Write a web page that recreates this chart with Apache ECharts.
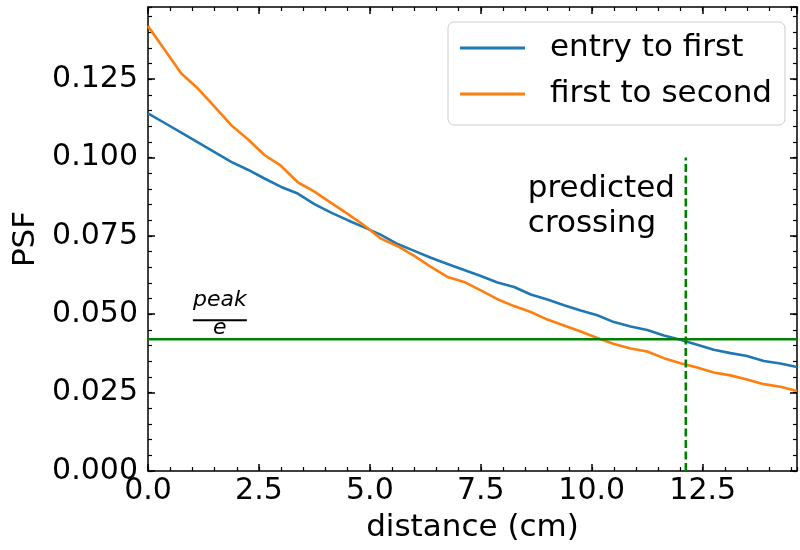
<!DOCTYPE html>
<html><head><meta charset="utf-8">
<script src="https://cdn.jsdelivr.net/npm/echarts@6/dist/echarts.min.js"></script>
<style>html,body{margin:0;padding:0;background:#fff}#c{width:800px;height:550px}</style>
</head><body><div id="c"></div>
<script>
// ---- data ----
const distance = [0,0.375,0.75,1.125,1.5,1.875,2.25,2.625,3,3.375,3.75,4.125,4.5,4.875,5.25,5.625,6,6.375,6.75,7.125,7.5,7.875,8.25,8.625,9,9.375,9.75,10.125,10.5,10.875,11.25,11.625,12,12.375,12.75,13.125,13.5,13.875,14.25,14.625];
const entryToFirst = [0.1141,0.1110,0.1079,0.1048,0.1017,0.0986,0.0961,0.0933,0.0906,0.0885,0.0851,0.0824,0.0800,0.0777,0.0753,0.0724,0.0702,0.0680,0.0660,0.0641,0.0622,0.0601,0.0587,0.0563,0.0547,0.0529,0.0512,0.0497,0.0475,0.0461,0.0450,0.0432,0.0419,0.0403,0.0387,0.0376,0.0367,0.0351,0.0343,0.0332];
const firstToSecond = [0.1419,0.1344,0.1268,0.1220,0.1162,0.1103,0.1058,0.1008,0.0973,0.0921,0.0891,0.0855,0.0820,0.0783,0.0741,0.0717,0.0686,0.0651,0.0619,0.0603,0.0576,0.0548,0.0526,0.0507,0.0483,0.0464,0.0445,0.0424,0.0405,0.0391,0.0381,0.0360,0.0344,0.0330,0.0314,0.0305,0.0292,0.0277,0.0269,0.0255];
const seriesNames = ['entry to first', 'first to second'];
const peakOverE = [0.042];          // horizontal threshold
const crossing = [12.12, 0, 0.100]; // x, y from, y to
const xRange = [0, 14.625];
const yRange = [0, 0.148];
const xTickStep = [2.5, 0.5];
const yTickStep = [0.025, 0.005];
const annotations = ['predicted\ncrossing', 'peak', 'e'];

const FONT = 'DejaVu Sans';
const BLACK = '#000';
const LW = 2.6;
const zip = (xs, ys) => xs.map((x, i) => [x, ys[i]]);

function xAx(pos, major) {
  return {
    type: 'value', position: pos, min: xRange[0], max: xRange[1],
    interval: major ? xTickStep[0] : xTickStep[1],
    axisLine: { show: major, onZero: false, lineStyle: { color: BLACK, width: 1.5 } },
    axisTick: { show: true, inside: true, length: major ? 7 : 4, lineStyle: { color: BLACK, width: major ? 1.5 : 1.2 } },
    axisLabel: { show: major && pos === 'bottom', formatter: v => v.toFixed(1), fontFamily: FONT, fontSize: 30, color: BLACK, margin: 5, showMaxLabel: false },
    splitLine: { show: false },
    name: (major && pos === 'bottom') ? 'distance (cm)' : '',
    nameLocation: 'middle', nameGap: 41,
    nameTextStyle: { fontFamily: FONT, fontSize: 31, color: BLACK }
  };
}
function yAx(pos, major) {
  return {
    type: 'value', position: pos, min: yRange[0], max: yRange[1],
    interval: major ? yTickStep[0] : yTickStep[1],
    axisLine: { show: major, onZero: false, lineStyle: { color: BLACK, width: 1.5 } },
    axisTick: { show: true, inside: true, length: major ? 7 : 4, lineStyle: { color: BLACK, width: major ? 1.5 : 1.2 } },
    axisLabel: { show: major && pos === 'left', formatter: v => v.toFixed(3), fontFamily: FONT, fontSize: 30, color: BLACK, margin: 10, showMaxLabel: false },
    splitLine: { show: false },
    name: (major && pos === 'left') ? 'PSF' : '',
    nameLocation: 'middle', nameGap: 102,
    nameTextStyle: { fontFamily: FONT, fontSize: 31, color: BLACK }
  };
}

const chart = echarts.init(document.getElementById('c'), null, { renderer: 'canvas' });
chart.setOption({
  animation: false,
  backgroundColor: '#fff',
  grid: { left: 148, right: 3, top: 7, bottom: 79, containLabel: false },
  xAxis: [xAx('bottom', true), xAx('bottom', false), xAx('top', true), xAx('top', false)],
  yAxis: [yAx('left', true), yAx('left', false), yAx('right', true), yAx('right', false)],
  legend: {
    data: seriesNames, orient: 'vertical', left: 448, top: 22,
    padding: [10, 13, 15, 12], itemWidth: 65, itemHeight: 3, itemGap: 14, icon: 'rect',
    backgroundColor: 'rgba(255,255,255,0.8)', borderColor: '#cccccc', borderWidth: 1, borderRadius: 6,
    textStyle: { fontFamily: FONT, fontSize: 31, color: BLACK, lineHeight: 32, padding: [0, 0, 0, 20] }
  },
  series: [
    { name: seriesNames[0], type: 'line', data: zip(distance, entryToFirst), symbol: 'none', color: '#1f77b4', lineStyle: { width: LW }, z: 2 },
    { name: seriesNames[1], type: 'line', data: zip(distance, firstToSecond), symbol: 'none', color: '#ff7f0e', lineStyle: { width: LW }, z: 3 },
    { name: 'threshold', type: 'line', data: [[xRange[0], peakOverE[0]], [xRange[1], peakOverE[0]]], symbol: 'none', color: '#008000', lineStyle: { width: LW }, z: 4 },
    { name: 'crossing', type: 'line', data: [[crossing[0], crossing[1]], [crossing[0], crossing[2]]], symbol: 'none', color: '#008000', lineStyle: { width: LW, type: [8, 3.5] }, z: 4 }
  ]
});

const tp = chart.convertToPixel({ gridIndex: 0 }, [8.56, 0.0955]);
const pk = chart.convertToPixel({ gridIndex: 0 }, [1.62, peakOverE[0]]);
chart.setOption({
  graphic: [
    { type: 'text', left: tp[0], top: tp[1], style: { text: annotations[0], fontFamily: FONT, fontSize: 31, lineHeight: 35, fill: BLACK } },
    { type: 'text', x: pk[0], y: pk[1] - 39, style: { text: annotations[1], fontFamily: FONT, fontStyle: 'italic', fontSize: 22, fill: BLACK, align: 'center', verticalAlign: 'middle' } },
    { type: 'rect', shape: { x: pk[0] - 27, y: pk[1] - 20, width: 54, height: 2 }, style: { fill: BLACK } },
    { type: 'text', x: pk[0], y: pk[1] - 11, style: { text: annotations[2], fontFamily: FONT, fontStyle: 'italic', fontSize: 22, fill: BLACK, align: 'center', verticalAlign: 'middle' } }
  ]
});
</script>
</body></html>
